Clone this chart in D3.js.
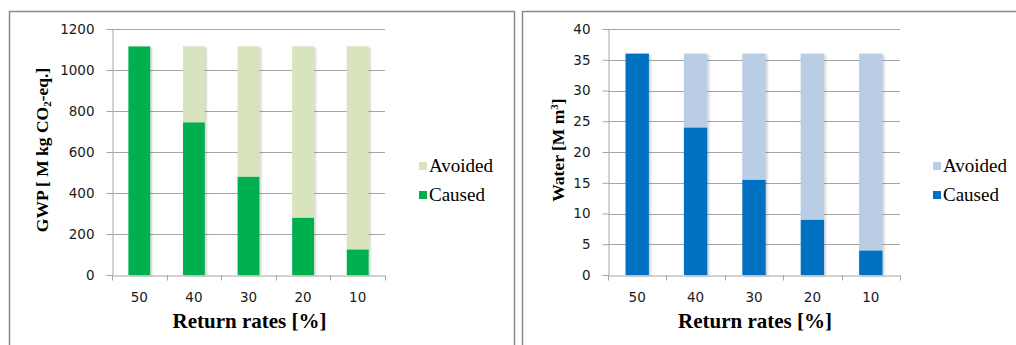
<!DOCTYPE html>
<html>
<head>
<meta charset="utf-8">
<script src="https://cdn.jsdelivr.net/npm/d3@7"></script>
<style>
  html, body { margin: 0; padding: 0; background: #ffffff; }
  svg { display: block; }
</style>
</head>
<body>
<svg id="chart" width="1016" height="345"></svg>
<script>
// ---- Data ----
const categories = ["50", "40", "30", "20", "10"];
const seriesNames = ["Caused", "Avoided"];

const gwpCaused  = [1115, 745, 480, 280, 125];
const gwpAvoided = [0, 370, 635, 835, 990];
const gwpTicks   = [0, 200, 400, 600, 800, 1000, 1200];

const waterCaused  = [36, 24, 15.5, 9, 4];
const waterAvoided = [0, 12, 20.5, 27, 32];
const waterTicks   = [0, 5, 10, 15, 20, 25, 30, 35, 40];

// ---- Styles / layout ----
const svg = d3.select("#chart");
const defs = svg.append("defs");
const filt = defs.append("filter").attr("id", "shadow")
  .attr("x", "-30%").attr("y", "-10%").attr("width", "160%").attr("height", "120%");
filt.append("feDropShadow").attr("dx", 1.5).attr("dy", 1).attr("stdDeviation", 1)
  .attr("flood-color", "#000").attr("flood-opacity", 0.22);

const panels = [
  {
    frame: [9, 11, 505, 345],
    x0: 112, x1: 385, yTop: 29, yBottom: 275,
    max: 1200, ticks: gwpTicks,
    caused: gwpCaused, avoided: gwpAvoided,
    colors: { Caused: "#00B050", Avoided: "#D7E4BD" },
    titleX: 48, legendX: 419,
    yTitle: "gwp"
  },
  {
    frame: [522, 11, 500, 345],
    x0: 608, x1: 900, yTop: 29, yBottom: 275,
    max: 40, ticks: waterTicks,
    caused: waterCaused, avoided: waterAvoided,
    colors: { Caused: "#0070C0", Avoided: "#B9CDE5" },
    titleX: 564, legendX: 933,
    yTitle: "water"
  }
];

const sansFont = "'DejaVu Sans', Verdana, sans-serif";
const serifFont = "'Liberation Serif', Tinos, 'Times New Roman', Times, 'DejaVu Serif', serif";

panels.forEach(p => {
  // frame
  svg.append("rect")
    .attr("x", p.frame[0] + 0.5).attr("y", p.frame[1] + 0.5)
    .attr("width", p.frame[2]).attr("height", p.frame[3])
    .attr("fill", "none").attr("stroke", "#8a8a8a").attr("stroke-width", 1.5);

  const g = svg.append("g");

  const x = d3.scaleBand().domain(categories).range([p.x0, p.x1]).paddingInner(0.6).paddingOuter(0.3);
  const xb = d3.scaleBand().domain(categories).range([p.x0, p.x1]);
  const y = d3.scaleLinear().domain([0, p.max]).range([p.yBottom, p.yTop]);

  // gridlines
  g.append("g").selectAll("line").data(p.ticks.filter(t => t > 0)).join("line")
    .attr("x1", p.x0).attr("x2", p.x1)
    .attr("y1", d => Math.round(y(d)) + 0.5).attr("y2", d => Math.round(y(d)) + 0.5)
    .attr("stroke", "#a6a6a6").attr("stroke-width", 1);

  // stacked bars
  const rows = categories.map((c, i) => ({ cat: c, Caused: p.caused[i], Avoided: p.avoided[i] }));
  const stack = d3.stack().keys(seriesNames)(rows);
  g.append("g").attr("filter", "url(#shadow)")
    .selectAll("g").data(stack).join("g")
    .attr("fill", d => p.colors[d.key])
    .selectAll("rect").data(d => d).join("rect")
    .attr("x", d => x(d.data.cat))
    .attr("width", x.bandwidth())
    .attr("y", d => y(d[1]))
    .attr("height", d => Math.max(0, y(d[0]) - y(d[1])));

  // y axis
  const yAxis = d3.axisLeft(y).tickValues(p.ticks).tickSize(6).tickPadding(12).tickFormat(d3.format("d"));
  const ya = g.append("g").attr("transform", `translate(${p.x0 + 0.5},0)`).call(yAxis);
  ya.select(".domain").attr("stroke", "#a6a6a6");
  ya.selectAll(".tick line").attr("stroke", "#a6a6a6");
  ya.selectAll(".tick text").attr("font-family", sansFont).attr("font-size", 13.5).attr("fill", "#1a1a1a");

  // x axis
  const xAxis = d3.axisBottom(xb).tickSize(0).tickPadding(17);
  const xa = g.append("g").attr("transform", `translate(0,${p.yBottom + 0.5})`).call(xAxis);
  xa.select(".domain").attr("stroke", "#a6a6a6");
  xa.selectAll(".tick text").attr("font-family", sansFont).attr("font-size", 13.5).attr("fill", "#1a1a1a");
  // category boundary tick marks
  const bounds = categories.map(c => xb(c)).concat([p.x1]);
  xa.append("g").selectAll("line").data(bounds).join("line")
    .attr("x1", d => Math.round(d) + 0.5).attr("x2", d => Math.round(d) + 0.5)
    .attr("y1", 0).attr("y2", 5)
    .attr("stroke", "#a6a6a6");

  // x title
  g.append("text")
    .attr("x", (p.x0 + p.x1) / 2 + 1).attr("y", 328)
    .attr("text-anchor", "middle")
    .attr("font-family", serifFont).attr("font-weight", "bold").attr("font-size", 21)
    .attr("fill", "#000")
    .text("Return rates [%]");

  // y title
  const yt = g.append("text")
    .attr("transform", `translate(${p.titleX},${(p.yTop + p.yBottom) / 2 - 2}) rotate(-90)`)
    .attr("text-anchor", "middle")
    .attr("font-family", serifFont).attr("font-weight", "bold").attr("font-size", 17.5)
    .attr("fill", "#000");
  if (p.yTitle === "gwp") {
    yt.append("tspan").text("GWP [ M kg CO");
    yt.append("tspan").attr("font-size", 11).attr("dy", 3).text("2");
    yt.append("tspan").attr("dy", -3).text("-eq.]");
  } else {
    yt.append("tspan").text("Water [M m");
    yt.append("tspan").attr("font-size", 11).attr("dy", -6).text("3");
    yt.append("tspan").attr("dy", 6).text("]");
  }

  // legend (Avoided on top, Caused below)
  const legendItems = ["Avoided", "Caused"];
  const lg = g.append("g");
  legendItems.forEach((k, i) => {
    const cy = 166 + i * 29;
    lg.append("rect").attr("x", p.legendX).attr("y", cy - 4).attr("width", 8).attr("height", 8)
      .attr("fill", p.colors[k]);
    lg.append("text").attr("x", p.legendX + 10).attr("y", cy + 6)
      .attr("font-family", serifFont).attr("font-size", 19).attr("fill", "#000")
      .text(k);
  });
});
</script>
</body>
</html>
